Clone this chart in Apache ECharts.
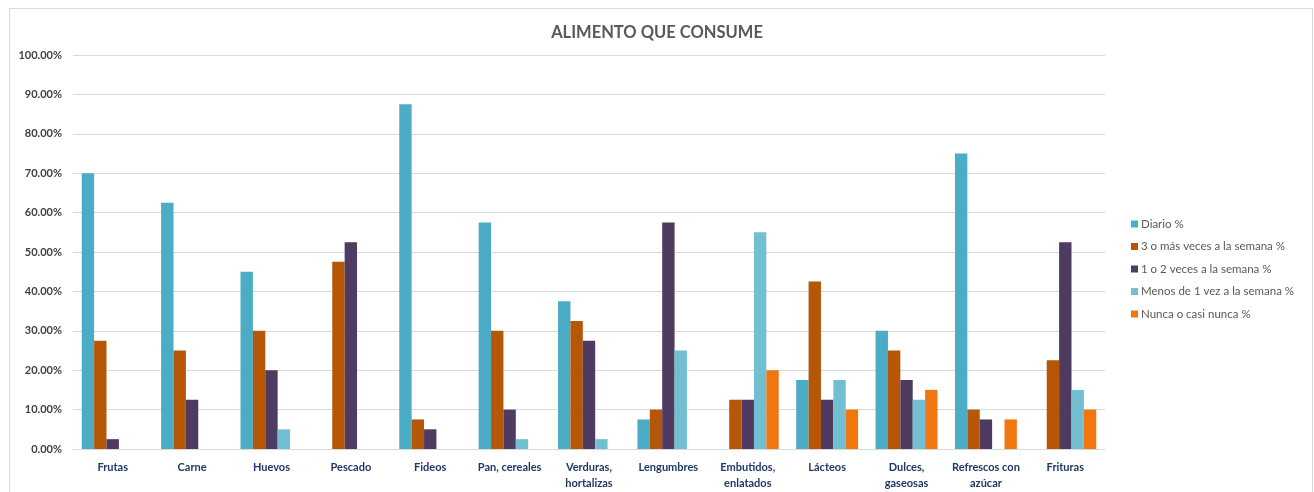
<!DOCTYPE html>
<html>
<head>
<meta charset="utf-8">
<script src="https://cdn.jsdelivr.net/npm/echarts@6/dist/echarts.min.js"></script>
<style>
html,body{margin:0;padding:0;background:#fff;}
#chart{width:1314px;height:492px;}
</style>
</head>
<body>
<div id="chart"></div>
<script>
var categories = ["Frutas","Carne","Huevos","Pescado","Fideos","Pan, cereales","Verduras,\nhortalizas","Lengumbres","Embutidos,\nenlatados","Lácteos","Dulces,\ngaseosas","Refrescos con\nazúcar","Frituras"];
var seriesNames = ["Diario %","3 o más veces a la semana %","1 o 2 veces a la semana %","Menos de 1 vez a la semana %","Nunca o casi nunca %"];
var diario   = [70, 62.5, 45, 0, 87.5, 57.5, 37.5, 7.5, 0, 17.5, 30, 75, 0];
var tresMas  = [27.5, 25, 30, 47.5, 7.5, 30, 32.5, 10, 12.5, 42.5, 25, 10, 22.5];
var unoDos   = [2.5, 12.5, 20, 52.5, 5, 10, 27.5, 57.5, 12.5, 12.5, 17.5, 7.5, 52.5];
var menosUno = [0, 0, 5, 0, 0, 2.5, 2.5, 25, 55, 17.5, 12.5, 0, 15];
var nunca    = [0, 0, 0, 0, 0, 0, 0, 0, 20, 10, 15, 7.5, 10];
var yTicks = [0, 10, 20, 30, 40, 50, 60, 70, 80, 90, 100];
var colors = ["#4BACC6", "#B65708", "#4F3B62", "#72BFD1", "#F07610"];

var values = [diario, tresMas, unoDos, menosUno, nunca];
var font = "Lato, 'Open Sans', sans-serif";
var chart = echarts.init(document.getElementById('chart'), null, {renderer: 'canvas'});
chart.setOption({
  animation: false,
  backgroundColor: '#fff',
  textStyle: {fontFamily: font},
  graphic: [{
    type: 'rect', left: 7, top: 6, z: -1,
    shape: {width: 1303, height: 500},
    style: {fill: 'none', stroke: '#d9d9d9', lineWidth: 1}
  }],
  title: {
    text: 'ALIMENTO QUE CONSUME',
    left: 'center', top: 19,
    textStyle: {fontFamily: font, fontSize: 16.5, fontWeight: 'bold', color: '#595959'}
  },
  legend: {
    orient: 'vertical', left: 1126, top: 213,
    itemWidth: 7, itemHeight: 7, itemGap: 10.5,
    icon: 'rect',
    data: seriesNames,
    textStyle: {fontFamily: font, fontSize: 11.5, color: '#595959', padding: [0,0,0,-2]}
  },
  grid: {left: 73, right: 209, top: 55, bottom: 43, containLabel: false},
  xAxis: {
    type: 'category', data: categories,
    axisLine: {lineStyle: {color: '#d9d9d9', width: 1}},
    axisTick: {show: false},
    axisLabel: {fontFamily: font, fontSize: 11, fontWeight: 'bold', color: '#1F3864', margin: 10, lineHeight: 16, interval: 0}
  },
  yAxis: {
    type: 'value', min: yTicks[0], max: yTicks[yTicks.length - 1], interval: 10,
    axisLine: {show: false}, axisTick: {show: false},
    splitLine: {lineStyle: {color: '#d9d9d9', width: 1}},
    axisLabel: {fontFamily: font, fontSize: 11, fontWeight: 'bold', color: '#404040', margin: 11,
      formatter: function (v) { return v.toFixed(2) + '%'; }}
  },
  series: seriesNames.map(function (n, i) {
    return {
      name: n, type: 'bar', data: values[i],
      barGap: '0%', barCategoryGap: '22%',
      itemStyle: {color: colors[i]}
    };
  })
});
</script>
</body>
</html>
